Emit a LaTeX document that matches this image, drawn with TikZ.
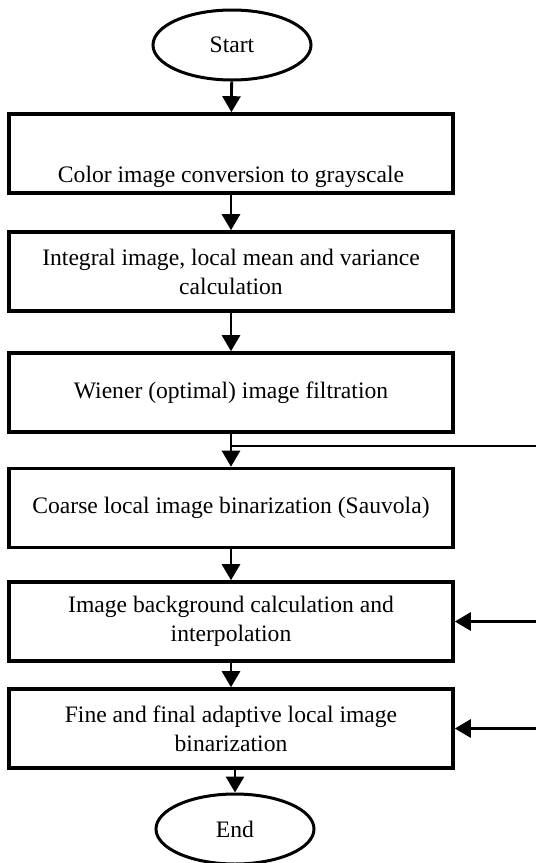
\documentclass[tikz,border=0pt]{standalone}
\usepackage{fontspec}
\setmainfont{Liberation Serif}
\usetikzlibrary{
  arrows.meta,      % Triangle arrow tips
  shapes.geometric, % ellipse for Start / End
  positioning
}
\tikzset{
  process/.style={
    draw,
    line width=1.8pt,
    minimum width=222pt,
    minimum height=39.5pt,
    align=center,
    inner sep=2pt,
    font=\fontsize{11.8}{14.5}\selectfont
  },
  terminal/.style={
    ellipse,
    draw,
    line width=1.5pt,
    minimum width=79pt,
    minimum height=35pt,
    inner sep=0pt,
    font=\fontsize{11.8}{14.5}\selectfont
  },
  flow/.style={
    -{Triangle[length=8pt,width=9pt]},
    line width=1.4pt
  },
  feed/.style={
    line width=1.4pt
  }
}

\begin{document}
\begin{tikzpicture}[x=0.5pt, y=-0.5pt]
    \useasboundingbox (0,0) rectangle (536,863);

    % 1. Start, process boxes and End
    \node[terminal] (start) at (232,45) {Start};
    % text of the first box sits low in its box
    \node[process, text height=31pt, text depth=2.5pt] (gray) at (231,153.5) {Color image conversion to grayscale};
    \node[process] (integral) at (231,271.5) {Integral image, local mean and variance\\calculation};
    \node[process] (wiener) at (231,392.5) {Wiener (optimal) image filtration};
    \node[process] (coarse) at (231,508) {Coarse local image binarization (Sauvola)};
    \node[process] (bg) at (231,621.5) {Image background calculation and\\interpolation};
    \node[process] (fine) at (231,728.5) {Fine and final adaptive local image\\binarization};
    \node[terminal] (end) at (235,829) {End};

    % 2. Main flow (top to bottom)
    \draw[flow] (start) -- (gray);
    \draw[flow] (gray) -- (integral);
    \draw[flow] (integral) -- (wiener);
    \draw[flow] (wiener) -- (coarse);
    \draw[flow] (coarse) -- (bg);
    \draw[flow] (bg) -- (fine);
    \draw[flow] (fine.south -| end.north) -- (end);

    % 3. Feedback lines on the right (run off the edge)
    \coordinate (split) at (wiener.south |- 0,446);
    \coordinate (edgeTop) at (536,446);
    \coordinate (edgeBg) at (536,621.5);
    \coordinate (edgeFine) at (536,728.5);
    \draw[feed] (split) -- (edgeTop);
    \draw[flow] (edgeBg) -- (bg.east);
    \draw[flow] (edgeFine) -- (fine.east);

\end{tikzpicture}
\end{document}
